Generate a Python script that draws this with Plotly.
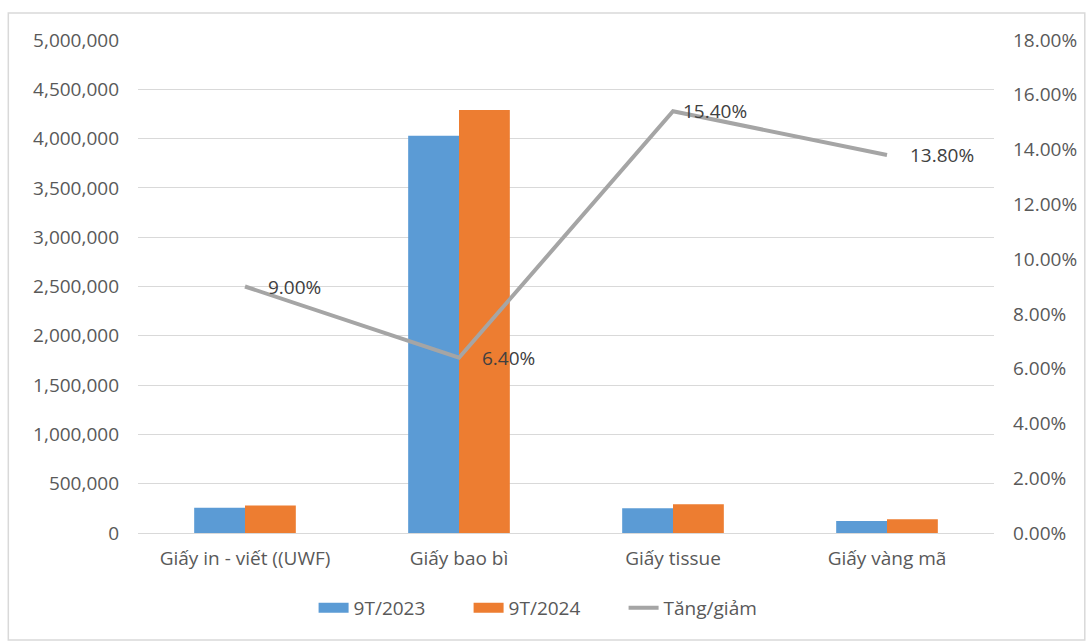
import plotly.graph_objects as go

# Paper output by segment, first nine months (tonnes)
categories = ["Giấy in - viết ((UWF)", "Giấy bao bì", "Giấy tissue", "Giấy vàng mã"]
output_2023 = [255000, 4030000, 252000, 122000]
output_2024 = [278000, 4290000, 291000, 139000]
growth = [0.090, 0.064, 0.154, 0.138]
growth_labels = ["9.00%", "6.40%", "15.40%", "13.80%"]

FONT = "Open Sans"
TXT = "#595959"
FS = 19
BLUE, ORANGE, GREY = "#5B9BD5", "#ED7D31", "#A5A5A5"

fig = go.Figure()
fig.add_trace(go.Bar(name="9T/2023", x=categories, y=output_2023, showlegend=False,
                     legendgroup="a", marker=dict(color=BLUE, line=dict(width=0))))
fig.add_trace(go.Bar(name="9T/2024", x=categories, y=output_2024, showlegend=False,
                     legendgroup="b", marker=dict(color=ORANGE, line=dict(width=0))))
fig.add_trace(go.Scatter(name="Tăng/giảm", x=categories, y=growth, yaxis="y2",
                         mode="lines", line=dict(color=GREY, width=4), showlegend=False,
                         legendgroup="c"))

# legend keys: wide flat swatches for the bars, a grey stroke for the line
for name, color, width, grp in [("9T/2023", BLUE, 10, "a"), ("9T/2024", ORANGE, 10, "b"),
                                ("Tăng/giảm", GREY, 4, "c")]:
    fig.add_trace(go.Scatter(name=name, x=[None], y=[None], mode="lines",
                             line=dict(color=color, width=width), legendgroup=grp,
                             showlegend=True, hoverinfo="skip"))

# value labels to the right of each growth point
label_shift = {"15.40%": 8}
for cat, val, lab in zip(categories, growth, growth_labels):
    fig.add_annotation(x=cat, y=val, yref="y2", text=lab, showarrow=False,
                       xanchor="left", yanchor="middle",
                       xshift=label_shift.get(lab, 21),
                       font=dict(family=FONT, size=FS, color="#404040"))

W, H = 1089, 642
L, R, T, B = 138, 93, 40, 109
pw, ph = W - L - R, H - T - B

def px_x(p):
    return (p - L) / pw

def px_y(p):
    return (H - B - p) / ph

fig.update_layout(
    width=W, height=H,
    margin=dict(l=L, r=R, t=T, b=B),
    paper_bgcolor="white", plot_bgcolor="white",
    font=dict(family=FONT, size=FS, color=TXT),
    barmode="group", bargap=0.525, bargroupgap=0,
    showlegend=True,
    legend=dict(orientation="h", x=px_x(314), xanchor="left", y=-0.152, yanchor="middle",
                font=dict(family=FONT, size=FS, color=TXT),
                itemwidth=30, entrywidth=110, entrywidthmode="pixels",
                tracegroupgap=0, itemclick=False),
    xaxis=dict(showgrid=False, showline=False, ticks="", ticklabelstandoff=12,
               tickfont=dict(family=FONT, size=FS, color=TXT)),
    yaxis=dict(range=[0, 5000000], dtick=500000, tickformat=",",
               showgrid=True, gridcolor="#D9D9D9", gridwidth=1,
               zeroline=True, zerolinecolor="#D9D9D9", zerolinewidth=1,
               showline=False, ticks="", ticklabelstandoff=18,
               tickfont=dict(family=FONT, size=FS, color=TXT)),
    yaxis2=dict(range=[0, 0.18], dtick=0.02, tickformat=".2%", overlaying="y", side="right",
                showgrid=False, zeroline=False, showline=False, ticks="", ticklabelstandoff=18,
                tickfont=dict(family=FONT, size=FS, color=TXT)),
    shapes=[dict(type="rect", xref="paper", yref="paper",
                 x0=px_x(8), x1=px_x(1087), y0=px_y(640), y1=px_y(13),
                 line=dict(color="#D9D9D9", width=1.5), layer="below")],
)

fig.write_html("out.html")
